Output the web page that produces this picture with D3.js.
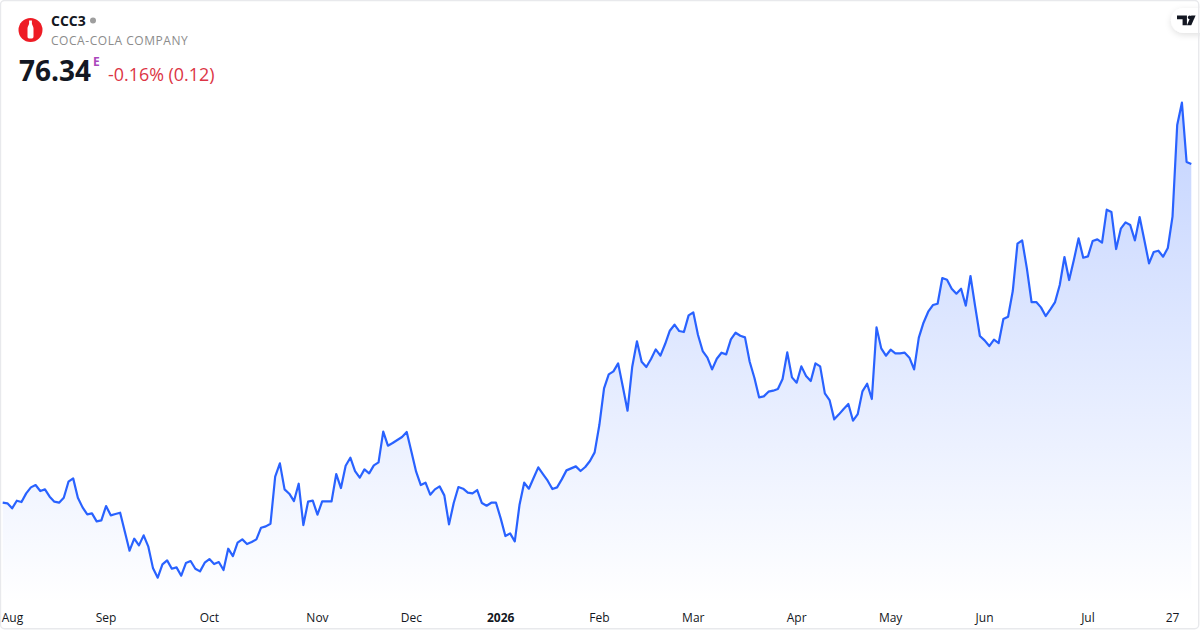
<!DOCTYPE html>
<html lang="en">
<head>
    <meta charset="UTF-8">
    <title>CCC3 - Coca-Cola Company</title>
    <style>
        html, body { margin: 0; padding: 0; background: #fff; }
        svg { display: block; font-family: "Open Sans", "Noto Sans", sans-serif; }
    </style>
</head>
<body>
    <svg id="chart" width="1200" height="630"></svg>

    <script src="https://d3js.org/d3.v7.min.js"></script>

    <script>
        // Daily closes, one list per stretch of the year
        const closesAug = [56.02, 55.98, 55.68, 56.14, 56.06, 56.58, 56.94, 57.08, 56.72, 56.82, 56.38, 56.08, 56.02, 56.32, 57.28, 57.48, 56.32, 55.74, 55.32, 55.38, 54.90, 54.96];
        const closesSep = [55.82, 55.26, 55.34, 55.42, 54.28, 53.14, 53.86, 53.46, 54.06, 53.38, 52.08, 51.52, 52.32, 52.56, 52.06, 52.14, 51.64, 52.40, 52.52, 52.06, 51.90, 52.42];
        const closesOct = [52.64, 52.34, 52.46, 51.98, 53.26, 52.82, 53.62, 53.82, 53.54, 53.66, 53.82, 54.52, 54.60, 54.76, 57.58, 58.38, 56.82, 56.56, 56.12, 57.16, 54.68, 56.08, 56.14];
        const closesNov = [55.30, 56.10, 56.10, 56.10, 57.74, 56.90, 58.24, 58.72, 57.92, 57.52, 58.02, 57.78, 58.26, 58.44, 60.28, 59.44, 59.60, 59.78, 59.96, 60.26];
        const closesDec = [59.08, 57.88, 57.08, 57.22, 56.50, 56.82, 57.00, 56.46, 54.72, 56.00, 56.96, 56.86, 56.62, 56.58, 56.78, 56.00, 55.84, 56.02, 56.02];
        const closesJan = [55.08, 54.02, 54.18, 53.70, 55.88, 57.22, 56.86, 57.50, 58.14, 57.74, 57.34, 56.84, 56.94, 57.42, 57.96, 58.08, 58.20, 57.92, 58.16, 58.52, 59.04];
        const closesFeb = [60.68, 62.88, 63.72, 63.90, 64.38, 62.98, 61.54, 64.18, 65.70, 64.48, 64.16, 64.64, 65.22, 64.84, 65.54, 66.34, 66.70, 66.32, 66.26, 67.26];
        const closesMar = [67.44, 66.08, 65.12, 64.72, 64.02, 64.66, 65.02, 64.92, 65.82, 66.22, 66.04, 65.94, 64.48, 63.52, 62.34, 62.40, 62.68, 62.74, 62.84, 63.44, 65.04, 63.54];
        const closesApr = [63.22, 64.20, 63.62, 63.32, 64.38, 64.20, 62.58, 62.18, 61.02, 61.32, 61.64, 61.94, 60.94, 61.34, 62.70, 63.16, 62.24, 66.54, 65.28, 64.84];
        const closesMay = [65.20, 64.98, 64.98, 65.02, 64.72, 64.02, 65.92, 66.82, 67.48, 67.88, 67.96, 69.50, 69.40, 68.86, 68.56, 68.86, 67.84, 69.62, 67.78, 66.02];
        const closesJun = [65.76, 65.42, 65.80, 65.60, 67.04, 67.18, 68.72, 71.56, 71.76, 70.08, 68.06, 68.06, 67.74, 67.22, 67.62, 68.06, 69.08, 70.76, 69.38, 70.58, 71.88, 70.72];
        const closesJul = [70.80, 71.72, 71.82, 71.62, 73.60, 73.46, 71.24, 72.46, 72.84, 72.68, 71.76, 73.16, 71.78, 70.38, 71.06, 71.14, 70.78, 71.30, 73.18, 78.68, 80.02, 76.46, 76.34];

        const closes = [].concat(closesAug, closesSep, closesOct, closesNov, closesDec, closesJan, closesFeb, closesMar, closesApr, closesMay, closesJun, closesJul);

        // Time axis: which bar each label sits under
        const tickBars = [0, 22, 44, 67, 87, 106, 127, 147, 169, 189, 209, 231, 249];
        const tickLabels = ["Aug", "Sep", "Oct", "Nov", "Dec", "2026", "Feb", "Mar", "Apr", "May", "Jun", "Jul", "27"];

        const ticker = "CCC3";
        const company = "COCA-COLA COMPANY";
        const lastPrice = "76.34";
        const change = "-0.16% (0.12)";

        const svg = d3.select("#chart");

        const x = d3.scaleLinear()
            .domain([0, closes.length - 1])
            .range([2.7, 1191.3]);

        const y = d3.scaleLinear()
            .domain([d3.min(closes), d3.max(closes)])
            .range([577.7, 102.7]);

        // Area gradient, faint blue fading to nothing at the bottom
        const defs = svg.append("defs");
        const grad = defs.append("linearGradient")
            .attr("id", "area-fill")
            .attr("gradientUnits", "userSpaceOnUse")
            .attr("x1", 0).attr("x2", 0)
            .attr("y1", y(d3.max(closes)))
            .attr("y2", 604);
        grad.append("stop").attr("offset", 0).attr("stop-color", "#2962ff").attr("stop-opacity", 0.28);
        grad.append("stop").attr("offset", 1).attr("stop-color", "#2962ff").attr("stop-opacity", 0);

        const shadow = defs.append("filter")
            .attr("id", "pill-shadow")
            .attr("x", "-30%").attr("y", "-30%").attr("width", "160%").attr("height", "180%");
        shadow.append("feDropShadow")
            .attr("dx", 0).attr("dy", 2).attr("stdDeviation", 3)
            .attr("flood-color", "#000").attr("flood-opacity", 0.12);

        svg.append("path")
            .datum(closes)
            .attr("fill", "url(#area-fill)")
            .attr("d", d3.area().x((d, i) => x(i)).y0(604).y1(d => y(d)));

        svg.append("path")
            .datum(closes)
            .attr("fill", "none")
            .attr("stroke", "#2962ff")
            .attr("stroke-width", 2.2)
            .attr("stroke-linejoin", "round")
            .attr("d", d3.line().x((d, i) => x(i)).y(d => y(d)));

        // Time axis
        const axis = svg.append("g")
            .attr("transform", "translate(0,604)")
            .call(d3.axisBottom(x)
                .tickValues(tickBars)
                .tickSize(0)
                .tickPadding(5)
                .offset(0)
                .tickFormat((d, i) => tickLabels[i]));
        axis.select(".domain").remove();
        axis.selectAll("text")
            .attr("y", 9)
            .attr("fill", "#131722")
            .style("font-family", '"Open Sans", sans-serif')
            .style("font-size", "12px")
            .style("font-weight", (d, i) => tickLabels[i] === "2026" ? 700 : 400);
        axis.selectAll("text").filter((d, i) => i === 0).attr("text-anchor", "start").attr("x", -1);

        // Header
        const logo = svg.append("g").attr("transform", "translate(30.5,30)");
        logo.append("circle").attr("r", 12).attr("fill", "#ee1c25");
        logo.append("path")
            .attr("fill", "#fff")
            .attr("d", "M-1.4,-9.5 h2.8 v3 c0,1.6 1.6,2.6 1.6,5 v8 c0,1.2 -0.6,2 -1.6,2 h-2.8 c-1,0 -1.6,-0.8 -1.6,-2 v-8 c0,-2.4 1.6,-3.4 1.6,-5 z");

        svg.append("text").attr("x", 51).attr("y", 26)
            .attr("fill", "#131722").style("font-size", "14px").style("font-weight", 700)
            .text(ticker);
        svg.append("circle").attr("cx", 93).attr("cy", 20.5).attr("r", 3).attr("fill", "#9e9e9e");
        svg.append("text").attr("x", 51).attr("y", 45)
            .attr("fill", "#8c8c8c").style("font-size", "12px").style("letter-spacing", "0.55px")
            .text(company);
        svg.append("text").attr("x", 19).attr("y", 81)
            .attr("fill", "#131722").style("font-size", "28px").style("font-weight", 700)
            .text(lastPrice);
        svg.append("text").attr("x", 93).attr("y", 66)
            .attr("fill", "#ab47bc").style("font-size", "12px").style("font-weight", 700)
            .text("E");
        svg.append("text").attr("x", 108).attr("y", 81)
            .attr("fill", "#dc3545").style("font-size", "17.9px")
            .text(change);

        // TradingView badge in the corner
        svg.append("rect")
            .attr("x", 1171).attr("y", 8).attr("width", 60).attr("height", 25).attr("rx", 12.5)
            .attr("fill", "#fff").attr("filter", "url(#pill-shadow)");
        const tv = svg.append("g").attr("transform", "translate(1177,12) scale(0.62,0.6)");
        tv.append("path").attr("fill", "#131722").attr("d", "M16 6H0v6h9v10h7V6z");
        tv.append("circle").attr("cx", 20.5).attr("cy", 9).attr("r", 3).attr("fill", "#131722");
        tv.append("path").attr("fill", "#131722").attr("d", "M30 6h-7l-7 16h7l7-16z");

        // Outer border, heavier on the right and bottom like the card it came from
        svg.append("rect")
            .attr("x", 0.5).attr("y", 0.5)
            .attr("width", 1198.2).attr("height", 628.2)
            .attr("rx", 4)
            .attr("fill", "none")
            .attr("stroke", "#e8e9ec")
            .attr("stroke-width", 1.4);
    </script>
</body>
</html>
